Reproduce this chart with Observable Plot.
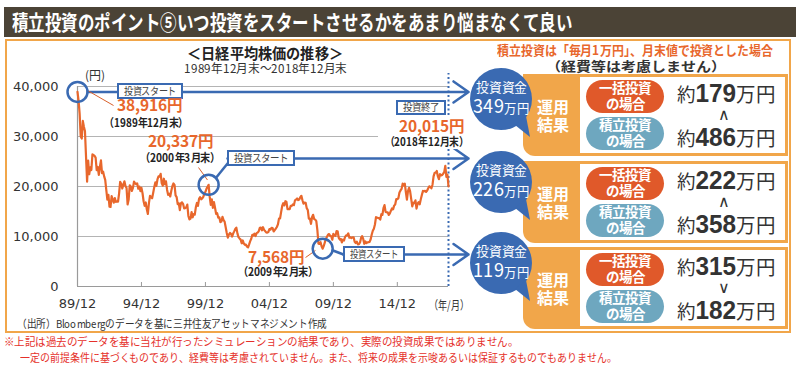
<!DOCTYPE html>
<html><head><meta charset="utf-8">
<script src="https://cdn.jsdelivr.net/npm/d3@7"></script>
<script src="https://cdn.jsdelivr.net/npm/@observablehq/plot@0.6"></script>
<style>
@font-face{font-family:"JPTight";font-weight:400;src:local("Noto Sans CJK JP Regular"),local("NotoSansCJKjp-Regular"),local("Noto Sans CJK JP");ascent-override:88%;descent-override:12%;line-gap-override:0%;}
@font-face{font-family:"JPTight";font-weight:700;src:local("Noto Sans CJK JP Bold"),local("NotoSansCJKjp-Bold");ascent-override:88%;descent-override:12%;line-gap-override:0%;}
@font-face{font-family:"DVTight";src:local("DejaVu Sans"),local("DejaVuSans");ascent-override:80%;descent-override:20%;line-gap-override:0%;}
html,body{margin:0;padding:0;background:#fff;}
#root{position:relative;width:800px;height:368px;overflow:hidden;}
.ib{display:inline-block;line-height:1;vertical-align:baseline;}
</style></head><body><div id="root"></div>
<script>
// ---------- DATA ----------
const xTickLabels = ["89/12","94/12","99/12","04/12","09/12","14/12"];
const yTicks = [0, 10000, 20000, 30000, 40000];
// Nikkei 225 month-end closes, 1989/12 .. 1999/12
const nikkei1989_1999 = [
38916,
37189,34592,29980,29585,33131,31940,31036,25978,20984,25194,22455,23849,
23293,26409,26292,26111,25790,23291,23899,22336,23916,25222,22687,22984,
22023,21339,19346,17391,18348,15952,15910,18061,17399,16767,17683,16925,
17024,16953,18591,20919,20552,19590,20380,21027,20106,19703,16408,17417,
20229,19997,19112,19725,20974,20644,20462,20629,19564,19990,19076,19723,
18650,17053,16140,16807,15437,14517,16678,18117,17913,17655,18744,19868,
20813,20125,21407,22041,21956,22531,20693,20167,21556,20467,21020,19361,
18330,18557,18003,19151,20069,20605,20331,18229,17888,16459,16636,15259,
16628,16831,16527,15641,15671,15830,16379,14108,13406,13564,14883,13842,
14499,14368,15837,16702,16112,17530,17862,17437,17605,17942,18558,18934];
// 2000/01 .. 2009/12
const nikkei2000_2009 = [
19540,19960,20337,17974,16332,17411,15727,16861,15747,14539,14649,13786,
13843,12883,12999,13934,13262,12969,11860,10713,9775,10366,10697,10543,
9998,10588,11025,11493,11764,10622,9877,9619,9383,8640,9216,8579,
8340,8363,7973,7831,8425,9083,9563,10344,10219,10560,10101,10677,
10784,11042,11715,11762,11236,11859,11326,11082,10824,10771,10899,11489,
11388,11741,11669,11009,11277,11584,11900,12414,13574,13607,14872,16111,
16650,16206,17060,16907,15468,15505,15457,16141,16128,16399,16274,17226,
17383,17604,17288,17400,17876,18138,17249,16569,16786,16738,15681,15308,
13592,13603,12526,13850,14339,13481,13377,13073,11260,8577,8512,8860,
7994,7568,8110,8828,9523,9958,10357,10493,10133,10035,9346,10546];
// 2010/01 .. 2018/12
const nikkei2010_2018 = [
10198,10126,11090,11057,9769,9383,9537,8824,9369,9202,9937,10229,
10238,10624,9755,9850,9694,9816,9833,8955,8700,8988,8435,8455,
8803,9723,10084,9521,8543,9007,8695,8840,8870,8928,9446,10395,
11139,11559,12398,13861,13775,13677,13668,13389,14456,14328,15662,16291,
14915,14841,14828,14304,14632,15162,15621,15425,16174,16414,17460,17451,
17674,18798,19207,19520,20563,20236,20585,18890,17388,19083,19747,19034,
17518,16027,16759,16666,17235,15576,16569,16887,16450,17425,18308,19114,
19041,19119,18909,19197,19651,20033,19925,19646,20356,22012,22725,22765,
23098,22068,21454,22468,22202,22305,22554,22865,24120,21920,22351,20015];

const startMonth = [0, 123, 230];            // month index from 1989/12
const startValue = [38916, 20337, 7568];
const startDate = ["（1989年12月末）", "（2000年3月末）", "（2009年2月末）"];
const endMonth = 348, endValue = 20015, endDate = "（2018年12月末）";

const investedTotal = ["349", "226", "119"];   // 万円
const lumpSumResult = ["179", "222", "315"];   // 万円
const dcaResult = ["486", "358", "182"];       // 万円
const compareMark = ["∧", "∧", "∨"];

// ---------- STYLE ----------
const BLUE = "#3a6ab2", ORANGE = "#e8672c", PANEL = "#f1a64a";
const JP = "'JPTight','Noto Sans CJK JP','Noto Sans',sans-serif";
const LAT = "'Liberation Sans',Arial,sans-serif";
const root = document.getElementById("root");

function label(html, o) {
  const el = document.createElement("div");
  el.innerHTML = html;
  el.style.cssText = `position:absolute;left:0;top:0;white-space:nowrap;line-height:${o.lh||1};font-family:${o.font||JP};font-size:${o.size}px;font-weight:${o.weight||400};color:${o.color||"#333"};text-align:${o.align||"left"};${o.css||""}`;
  root.appendChild(el);
  const r = el.getBoundingClientRect();
  const s = o.w ? o.w / r.width : 1;
  const w = r.width * s;
  const left = o.anchor === "middle" ? o.x - w / 2 : o.anchor === "end" ? o.x - w : o.x;
  el.style.left = left + "px";
  el.style.top = (o.y - r.height / 2) + "px";
  if (s !== 1) { el.style.transformOrigin = "0 50%"; el.style.transform = `scaleX(${s})`; }
  return el;
}
function box(o) {
  const el = document.createElement("div");
  el.style.cssText = `position:absolute;left:${o.x}px;top:${o.y}px;width:${o.w}px;height:${o.h}px;background:${o.bg||"#fff"};${o.css||""}`;
  root.appendChild(el);
  return el;
}

function draw() {
// ---------- FRAME ----------
box({x: 5, y: 39, w: 782, h: 290, bg: "transparent", css: "border:2px solid " + PANEL + ";"});

// ---------- CHART ----------
const series = [...nikkei1989_1999, ...nikkei2000_2009, ...nikkei2010_2018].map((v, i) => ({i, v}));
const starts = startMonth.map((i, k) => ({i, v: startValue[k]}));
const xTickValues = xTickLabels.map((_, k) => k * 60);

// annotation geometry (data units: month index, yen)
const arrows = [
  {x1: 9.5, y1: 38916, x2: 366.8, y2: 38916},
  {x1: 140.7, y1: 25600, x2: 366.8, y2: 25600},
  {x1: 249.5, y1: 6400, x2: 366.8, y2: 6400}
];
const connectors = [
  {x1: 129.4, y1: 21600, x2: 141.5, y2: 24800},
  {x1: 238.4, y1: 7300, x2: 249.5, y2: 6400}
];
const leaders = [
  {x1: 9.4, y1: 39200, x2: 33.8, y2: 36200},
  {x1: 113.5, y1: 23800, x2: 121.9, y2: 21300},
  {x1: 213.9, y1: 5800, x2: 223.2, y2: 7200}
];

const chart = Plot.plot({
  width: 800, height: 368,
  marginLeft: 77, marginRight: 352, marginTop: 86, marginBottom: 82,
  style: {background: "transparent", fontFamily: "'DejaVu Sans',Verdana,sans-serif", fontSize: "13px", color: "#333", overflow: "visible"},
  x: {domain: [0, 348], ticks: xTickValues, tickFormat: d => xTickLabels[d / 60], tickSize: 0, tickPadding: 12, label: null},
  y: {domain: [0, 40000], ticks: yTicks, tickFormat: d3.format(","), tickSize: 0, tickPadding: 19, label: null},
  marks: [
    Plot.ruleY(yTicks.slice(1), {stroke: "#b4b4b4", strokeWidth: 1}),
    Plot.ruleX([0], {stroke: "#9a9a9a", strokeWidth: 1.2}),
    Plot.ruleY([0], {stroke: "#9a9a9a", strokeWidth: 1.2}),
    Plot.ruleX(xTickValues.slice(1), {y1: 0, y2: 800, stroke: "#9a9a9a"}),
    Plot.ruleX([endMonth], {y1: 0, y2: 42600, stroke: BLUE, strokeWidth: 2, strokeDasharray: "2,2.5"}),
    Plot.line(series, {x: "i", y: "v", stroke: ORANGE, strokeWidth: 2.2, strokeLinejoin: "round"}),
    Plot.link(connectors, {x1: "x1", y1: "y1", x2: "x2", y2: "y2", stroke: BLUE, strokeWidth: 2.5}),
    Plot.arrow(arrows, {x1: "x1", y1: "y1", x2: "x2", y2: "y2", stroke: BLUE, strokeWidth: 2.5, headLength: 11, headAngle: 70}),
    Plot.link(leaders, {x1: "x1", y1: "y1", x2: "x2", y2: "y2", stroke: "#d9602b", strokeWidth: 1}),
    Plot.dot(starts, {x: "i", y: "v", r: 10, stroke: BLUE, strokeWidth: 2.5, fill: "none"})
  ]
});
chart.style.position = "absolute";
chart.style.left = "0px";
chart.style.top = "0px";
root.appendChild(chart);

const xs = chart.scale("x"), ys = chart.scale("y");
const X = xs.apply ? v => xs.apply(v) : d3.scaleLinear(xs.domain, xs.range);
const Y = ys.apply ? v => ys.apply(v) : d3.scaleLinear(ys.domain, ys.range);

// chart headings
label("＜日経平均株価の推移＞", {x: 265, y: 53, size: 15, weight: 700, anchor: "middle", w: 156, color: "#222"});
label("1989年12月末～2018年12月末", {x: 265, y: 68, size: 12, anchor: "middle", w: 163, color: "#333"});
label("(円)", {x: 85, y: 75, size: 12, color: "#333"});
label("（年/月）", {x: 449, y: 305, size: 12, anchor: "middle", w: 40, color: "#333"});

// white mask behind end labels
box({x: 378, y: 117, w: 92, h: 32});

// start boxes
const boxes = [
  {t: "投資スタート", i: 68.5, v: 38916, w: 66, h: 16},
  {t: "投資スタート", i: 172.6, v: 25600, w: 68, h: 16},
  {t: "投資スタート", i: 278.6, v: 6400, w: 62, h: 16},
  {t: "投資終了", i: 322.7, v: 35800, w: 50, h: 15}
];
for (const b of boxes) {
  const cx = X(b.i), cy = Y(b.v);
  box({x: cx - b.w / 2, y: cy - b.h / 2, w: b.w - 4, h: b.h - 4, css: `border:2px solid ${BLUE};`});
  label(b.t, {x: cx, y: cy, size: 10.5, anchor: "middle", w: b.w - 14, color: "#444"});
}

// value/date labels
const fmt = d3.format(",");
const valPos = [{i: 37.5, v: 36000, a: "start"}, {i: 66.6, v: 28800, a: "start"}, {i: 213.9, v: 5600, a: "end"}];
const datePos = [{i: 25.5, v: 32600, a: "start", w: 84}, {i: 59, v: 25600, a: "start", w: 80}, {i: 226.1, v: 2800, a: "end", w: 80}];
startValue.forEach((v, k) => {
  label(fmt(v) + "円", {x: X(valPos[k].i), y: Y(valPos[k].v), size: 15.5, weight: 700, color: ORANGE, anchor: valPos[k].a});
  label(startDate[k], {x: X(datePos[k].i), y: Y(datePos[k].v), size: 11.5, weight: 700, color: "#222", anchor: datePos[k].a, w: datePos[k].w});
});
label(fmt(endValue) + "円", {x: X(302), y: Y(31800), size: 15.5, weight: 700, color: ORANGE});
label(endDate, {x: X(289), y: Y(28800), size: 11.5, weight: 700, color: "#222", w: 83});

// ---------- TITLE BAR ----------
box({x: 4, y: 7, w: 792, h: 30, bg: "#4b4336"});
label("積立投資のポイント⑤いつ投資をスタートさせるかをあまり悩まなくて良い", {x: 12, y: 22, size: 21, weight: 700, color: "#fff", w: 560});

// ---------- RIGHT PANEL ----------
label("積立投資は「毎月1万円」、月末値で投資とした場合", {x: 635, y: 50, size: 13, weight: 700, color: ORANGE, anchor: "middle", w: 276});
label("（経費等は考慮しません）", {x: 636, y: 66, size: 13, weight: 700, color: "#333", anchor: "middle", w: 180});

const panelTop = [74, 161, 247], panelH = 82;
panelTop.forEach((t, k) => {
  box({x: 523, y: t, w: 265, h: panelH, bg: PANEL, css: "border-radius:0 0 0 12px;"});
  box({x: 580, y: t + 3, w: 205, h: panelH - 6, bg: "#fff"});
  label("運用<br>結果", {x: 553, y: t + panelH / 2 + 1, size: 16, weight: 700, color: "#fff", anchor: "middle", lh: 1.15});
  box({x: 586, y: t + 6, w: 78, h: 33, bg: "#e0592a", css: "border-radius:17px;"});
  box({x: 586, y: t + 43, w: 78, h: 33, bg: "#6ea7bf", css: "border-radius:17px;"});
  label("一括投資<br>の場合", {x: 625, y: t + 22.5, size: 13.5, weight: 700, color: "#fff", anchor: "middle", align: "center", lh: 1.12});
  label("積立投資<br>の場合", {x: 625, y: t + 59.5, size: 13.5, weight: 700, color: "#fff", anchor: "middle", align: "center", lh: 1.12});
  const val = v => `<span class="ib" style="font-size:19px">約</span><span class="ib" style="font-size:25px;font-weight:700;font-family:${LAT}">${v}</span><span class="ib" style="font-size:20px">万円</span>`;
  label(val(lumpSumResult[k]), {x: 726, y: t + 19, size: 19, color: "#333", anchor: "middle", w: 98, lh: 1});
  label(compareMark[k], {x: 724, y: t + 41, size: 16, color: "#333", anchor: "middle", font: "'DVTight','DejaVu Sans',sans-serif"});
  label(val(dcaResult[k]), {x: 726, y: t + 63, size: 19, color: "#333", anchor: "middle", w: 98, lh: 1});
});

// speech bubbles
const bubbleY = [99, 182, 263];
const NS = "http://www.w3.org/2000/svg";
const bsvg = document.createElementNS(NS, "svg");
bsvg.setAttribute("width", 800); bsvg.setAttribute("height", 368);
bsvg.style.cssText = "position:absolute;left:0;top:0;";
root.appendChild(bsvg);
bubbleY.forEach((cy, k) => {
  const cx = 501, r = 31;
  const c = document.createElementNS(NS, "circle");
  c.setAttribute("cx", cx); c.setAttribute("cy", cy); c.setAttribute("r", r); c.setAttribute("fill", BLUE);
  bsvg.appendChild(c);
  const p = document.createElementNS(NS, "path");
  p.setAttribute("d", `M${cx + 14},${cy + 26} L${cx + 29},${cy + 38} L${cx + 25},${cy + 17} Z`);
  p.setAttribute("fill", BLUE);
  bsvg.appendChild(p);
  label("投資資金", {x: cx, y: cy - 12, size: 13, color: "#fff", anchor: "middle", w: 51});
  label(`<span class="ib" style="font-size:19px">${investedTotal[k]}</span><span class="ib" style="font-size:13px">万円</span>`, {x: cx, y: cy + 6, size: 19, color: "#fff", anchor: "middle", w: 56});
});

// ---------- FOOTER ----------
label("（出所）Bloombergのデータを基に三井住友アセットマネジメント作成", {x: 17, y: 323, size: 11, color: "#333", w: 310});
label("※上記は過去のデータを基に当社が行ったシミュレーションの結果であり、実際の投資成果ではありません。", {x: 4, y: 341, size: 11, color: "#e5302a", w: 514});
label("一定の前提条件に基づくものであり、経費等は考慮されていません。また、将来の成果を示唆あるいは保証するものでもありません。", {x: 20, y: 357, size: 11, color: "#e5302a", w: 597});
}

let drawn = false;
function go() { if (!drawn) { drawn = true; draw(); } }
if (document.fonts && document.fonts.load) {
  Promise.all([
    document.fonts.load("400 12px JPTight", "日"),
    document.fonts.load("700 12px JPTight", "日"),
    document.fonts.load("16px DVTight", "∧")
  ]).then(go, go);
  setTimeout(go, 1500);
} else { go(); }
</script>
</body></html>
